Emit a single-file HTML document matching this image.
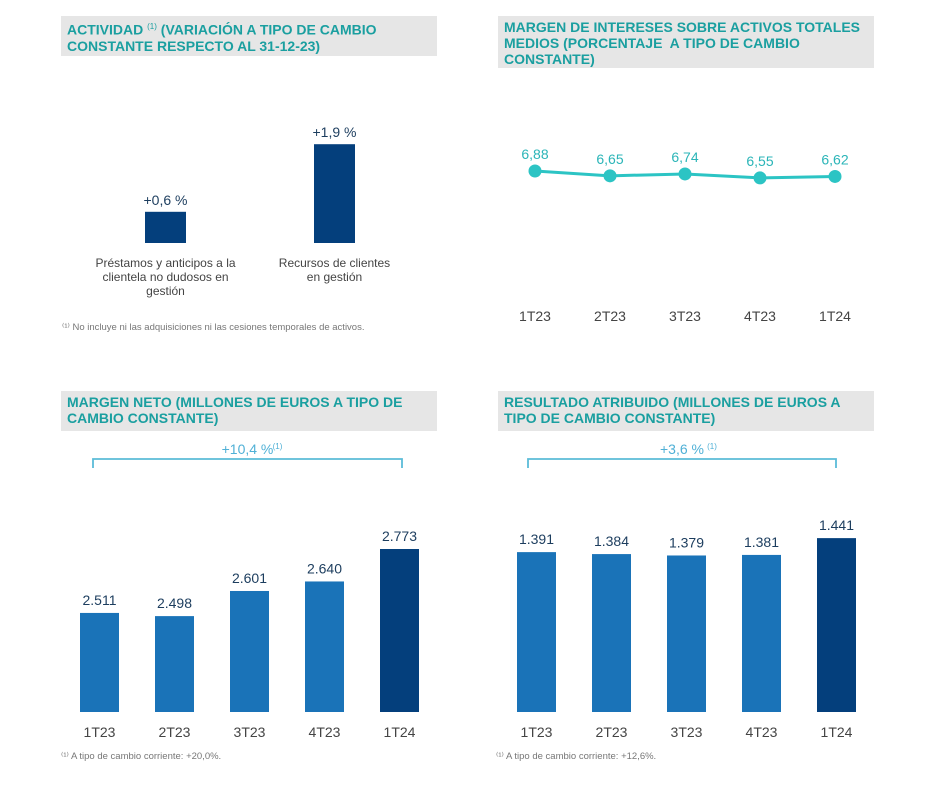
<!DOCTYPE html>
<html><head><meta charset="utf-8">
<style>
body{margin:0;background:#fff;width:937px;height:792px;overflow:hidden;font-family:"Liberation Sans",sans-serif;}
.hdr{position:absolute;background:#e6e6e6;color:#1a9fa0;font-weight:bold;font-size:14px;line-height:16px;padding:3px 6px;box-sizing:border-box;}
.hdr sup{font-size:8px;font-weight:normal;}
svg{position:absolute;left:0;top:0;}
</style></head><body>
<div class="hdr" style="left:61px;top:16px;width:376px;height:40px;">ACTIVIDAD <sup>(1)</sup> (VARIACIÓN A TIPO DE CAMBIO CONSTANTE RESPECTO AL 31-12-23)</div>
<div class="hdr" style="left:498px;top:16px;width:376px;height:52px;">MARGEN DE INTERESES SOBRE ACTIVOS TOTALES MEDIOS (PORCENTAJE&nbsp; A TIPO DE CAMBIO CONSTANTE)</div>
<div class="hdr" style="left:61px;top:391px;width:376px;height:40px;">MARGEN NETO (MILLONES DE EUROS A TIPO DE CAMBIO CONSTANTE)</div>
<div class="hdr" style="left:498px;top:391px;width:376px;height:40px;">RESULTADO ATRIBUIDO (MILLONES DE EUROS A TIPO DE CAMBIO CONSTANTE)</div>
<svg id="c" width="937" height="792"></svg>
<script>
const actCats=["Préstamos y anticipos a la|clientela no dudosos en|gestión","Recursos de clientes|en gestión"];
const actVals=[0.6,1.9];
const actLabels=["+0,6 %","+1,9 %"];
const quarters=["1T23","2T23","3T23","4T23","1T24"];
const nimVals=[6.88,6.65,6.74,6.55,6.62];
const nimLabels=["6,88","6,65","6,74","6,55","6,62"];
const netoVals=[2511,2498,2601,2640,2773];
const netoLabels=["2.511","2.498","2.601","2.640","2.773"];
const resVals=[1391,1384,1379,1381,1441];
const resLabels=["1.391","1.384","1.379","1.381","1.441"];

const svg=document.getElementById('c');
const NS="http://www.w3.org/2000/svg";
function mk(tag,attrs,txt){const e=document.createElementNS(NS,tag);for(const k in attrs)e.setAttribute(k,attrs[k]);if(txt!=null)e.textContent=txt;svg.appendChild(e);return e;}
function txt(x,y,s,size,fill,anchor){return mk('text',{x:x,y:y,'font-size':size,fill:fill,'text-anchor':anchor||'middle','font-family':'Liberation Sans, sans-serif'},s);}

// Actividad
const aX=[165.5,334.5], aBase=243, aScale=52;
actVals.forEach((v,i)=>{
  const h=v*aScale;
  const r=mk('rect',{x:aX[i]-20.5,y:aBase-h,width:41,height:h,fill:'#043f7c'});
  
  
  const t=txt(aX[i],aBase-h-7,actLabels[i],14,'#1c3d5e');
  
  
  actCats[i].split('|').forEach((ln,j)=>{
    const c=txt(aX[i],267+j*14,ln,12,'#444');
    
    
  });
});
const f1=txt(62,330,"⁽¹⁾ No incluye ni las adquisiciones ni las cesiones temporales de activos.",9.5,'#777','start');



// Line chart
const lX=i=>535+i*75;
const lY=v=>171+(6.88-v)*21;
let pts=nimVals.map((v,i)=>lX(i)+','+lY(v)).join(' ');
const pl=mk('polyline',{points:pts,fill:'none',stroke:'#2cc4c4','stroke-width':3});


nimVals.forEach((v,i)=>{
  const c=mk('circle',{cx:lX(i),cy:lY(v),r:6.5,fill:'#2cc4c4'});
  
  
  const t=txt(lX(i),lY(v)-12,nimLabels[i],14,'#2bb5b8');
  
  
  const q=txt(lX(i),321,quarters[i],14,'#444');
  
  
});

// Bar charts
function barChart(prefix,x0,vals,labels,minV,scale,pct,foot,bx1,bx2){
  const base=712;
  vals.forEach((v,i)=>{
    const cx=x0+i*75, h=(v-minV)*scale;
    const r=mk('rect',{x:cx-19.5,y:base-h,width:39,height:h,fill:i==vals.length-1?'#043f7c':'#1a73b8'});
    
    
    const t=txt(cx,base-h-8,labels[i],14,'#1c3d5e');
    
    
    const q=txt(cx,737,quarters[i],14,'#444');
    
    
  });
  const b=mk('path',{d:`M${bx1} 468 V459 H${bx2} V468`,fill:'none',stroke:'#5bbcd8','stroke-width':1.8});
  
  
  const mid=(bx1+bx2)/2;
  const g=txt(mid,454,pct,14,'#4fb0d6');
  
  
  const s=txt(mid+(pct.length>7?38:30),449,'(1)',8,'#4fb0d6');
  
  
  const f=txt(bx1-32,759,foot,9.5,'#777','start');
  
  
}
barChart('neto',99.5,netoVals,netoLabels,2105,0.244,'+10,4 %','⁽¹⁾ A tipo de cambio corriente: +20,0%.',93,402);
barChart('resultado',536.5,resVals,resLabels,820,0.28,'+3,6 %','⁽¹⁾ A tipo de cambio corriente: +12,6%.',528,836);
</script>
</body></html>
